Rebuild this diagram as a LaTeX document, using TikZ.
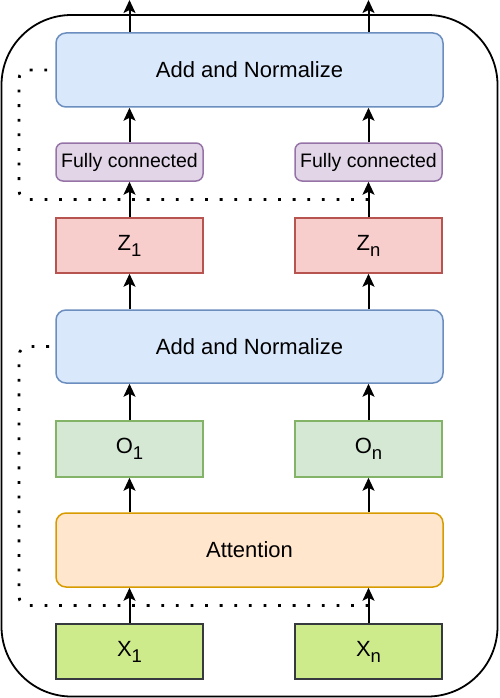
\documentclass[tikz,border=0pt]{standalone}
\usepackage{fontspec}
\setmainfont{Liberation Sans}
\usetikzlibrary{calc}
\usetikzlibrary{arrows.meta}
\definecolor{blueFill}{HTML}{DAE8FC}
\definecolor{blueLine}{HTML}{6C8EBF}
\definecolor{purpleFill}{HTML}{E1D5E7}
\definecolor{purpleLine}{HTML}{9673A6}
\definecolor{redFill}{HTML}{F8CECC}
\definecolor{redLine}{HTML}{B85450}
\definecolor{greenFill}{HTML}{D5E8D4}
\definecolor{greenLine}{HTML}{82B366}
\definecolor{orangeFill}{HTML}{FFE6CC}
\definecolor{orangeLine}{HTML}{D79B00}
\definecolor{limeFill}{HTML}{CDEB8B}
\definecolor{limeLine}{HTML}{36393D}
\newcommand{\subidx}[1]{\raisebox{-6pt}{\fontsize{18.5}{20}\selectfont #1}}
\begin{document}
\begin{tikzpicture}[x=1pt, y=-1pt,
	Pfeil/.style={line width=2pt, arrows = -{Stealth[length=13pt, width=12pt, inset=3pt]}},
	Rest/.style={line width=2.8pt, dash pattern=on 2.8pt off 11.8pt, rounded corners=9pt},
	Box/.style={draw, line width=1.5pt, inner sep=0pt, minimum width=147pt, font=\fontsize{22}{26}\selectfont},
	Wide/.style={Box, minimum width=387pt, minimum height=74pt, rounded corners=10pt}]
				\useasboundingbox (0,0) rectangle (500,698);
				\draw[line width=1.8pt, rounded corners=70pt] (1.5,15) rectangle (497.5,696.5);
				\node (x1) at (129.5,651.5) [Box, minimum height=55pt, fill=limeFill, draw=limeLine] {X\subidx{1}};
				\node (xn) at (368.5,651.5) [Box, minimum height=55pt, fill=limeFill, draw=limeLine] {X\subidx{n}};
				\node (att) at (249.5,550) [Wide, fill=orangeFill, draw=orangeLine] {Attention};
				\node (o1) at (129.5,449) [Box, minimum height=56pt, fill=greenFill, draw=greenLine] {O\subidx{1}};
				\node (on) at (368.5,449) [Box, minimum height=56pt, fill=greenFill, draw=greenLine] {O\subidx{n}};
				\node (add2) at (249.5,346.5) [Wide, minimum height=73pt, fill=blueFill, draw=blueLine] {Add and Normalize};
				\node (z1) at (129.5,245.5) [Box, minimum height=55pt, fill=redFill, draw=redLine] {Z\subidx{1}};
				\node (zn) at (368.5,245.5) [Box, minimum height=55pt, fill=redFill, draw=redLine] {Z\subidx{n}};
				\node (fc1) at (129.5,162) [Box, minimum height=38pt, rounded corners=7pt, fill=purpleFill, draw=purpleLine, font=\fontsize{19.5}{23}\selectfont] {Fully connected};
				\node (fcn) at (368.5,162) [Box, minimum height=38pt, rounded corners=7pt, fill=purpleFill, draw=purpleLine, font=\fontsize{19.5}{23}\selectfont] {Fully connected};
				\node (add1) at (249.5,70) [Wide, fill=blueFill, draw=blueLine] {Add and Normalize};
				\coordinate (out1) at (129.5,0);
				\coordinate (outn) at (368.5,0);
				% residual branches
				\coordinate (r1) at ($(xn.north)!0.5!(att.south -| xn)$);
				\coordinate (r2) at ($(zn.north)!0.5!(fcn.south)$);
				\draw[Rest] (r1) -- (19,605.5) |- (add2.west);
				\draw[Rest] (r2) -- (19,199.5) |- (add1.west);
				% data flow
				\draw[Pfeil] (x1) -- (att.south -| x1);
				\draw[Pfeil] (xn) -- (att.south -| xn);
				\draw[Pfeil] (att.north -| o1) -- (o1);
				\draw[Pfeil] (att.north -| on) -- (on);
				\draw[Pfeil] (o1) -- (add2.south -| o1);
				\draw[Pfeil] (on) -- (add2.south -| on);
				\draw[Pfeil] (add2.north -| z1) -- (z1);
				\draw[Pfeil] (add2.north -| zn) -- (zn);
				\draw[Pfeil] (z1) -- (fc1);
				\draw[Pfeil] (zn) -- (fcn);
				\draw[Pfeil] (fc1) -- (add1.south -| fc1);
				\draw[Pfeil] (fcn) -- (add1.south -| fcn);
				\draw[Pfeil] (add1.north -| out1) -- (out1);
				\draw[Pfeil] (add1.north -| outn) -- (outn);
			\end{tikzpicture}
\end{document}
